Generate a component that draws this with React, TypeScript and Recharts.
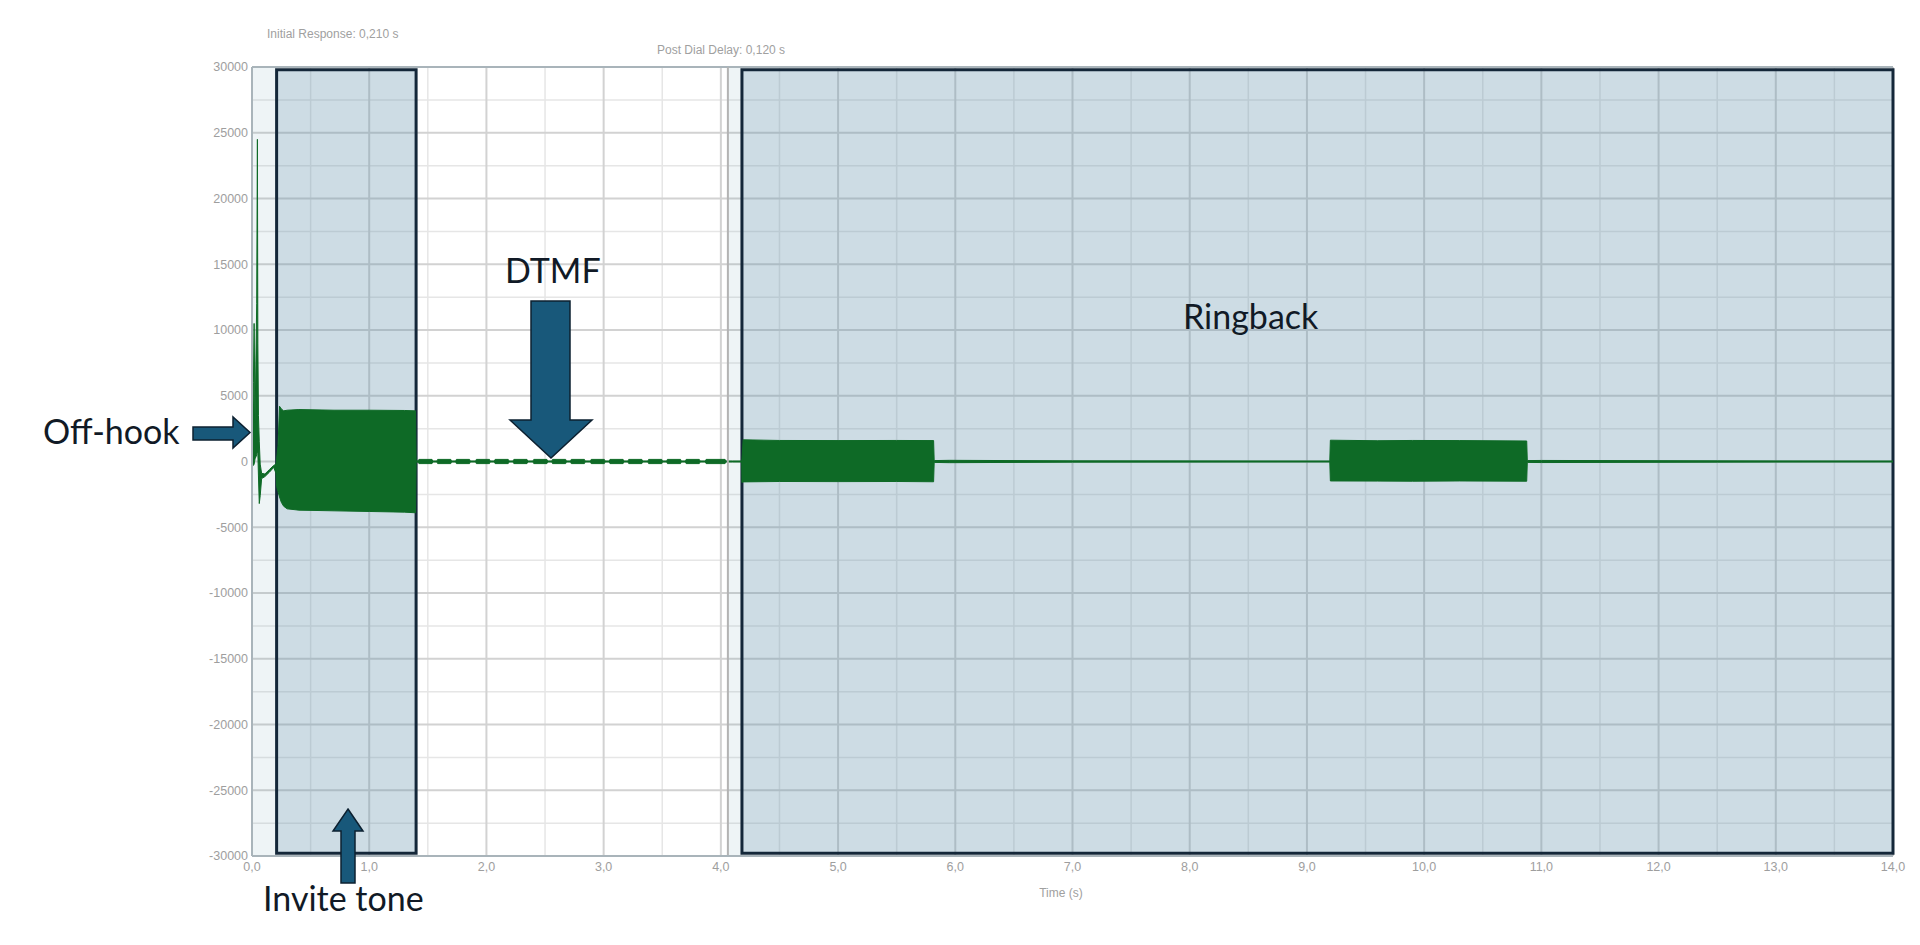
import React from 'react';
import { ComposedChart, Area, XAxis, YAxis, CartesianGrid, ReferenceArea, ReferenceLine } from 'recharts';

// ---- axis ticks ----
const xTicks = [0, 1, 2, 3, 4, 5, 6, 7, 8, 9, 10, 11, 12, 13, 14];
const yTicks = [-30000, -25000, -20000, -15000, -10000, -5000, 0, 5000, 10000, 15000, 20000, 25000, 30000];
const minorX = [0.5, 1.5, 2.5, 3.5, 4.5, 5.5, 6.5, 7.5, 8.5, 9.5, 10.5, 11.5, 12.5, 13.5];
const minorY = [-27500, -22500, -17500, -12500, -7500, -2500, 2500, 7500, 12500, 17500, 22500, 27500];

// ---- phases (seconds) ----
const initialResponse = [0, 0.21];
const inviteWindow = [0.21, 1.4];
const postDialDelay = [4.06, 4.18];
const ringbackWindow = [4.18, 14.0];

// ---- waveform envelope: [time, min, max] ----
const offHook: [number, number, number][] = [
  [0.0, 0, 0],
  [0.012, -300, 6000],
  [0.018, -200, 10500],
  [0.026, 200, 3000],
  [0.04, 500, 12000],
  [0.046, 800, 24500],
  [0.05, 600, 9000],
  [0.055, -1100, 3500],
  [0.062, -3200, 1500],
  [0.07, -2600, -200],
  [0.082, -1300, -900],
  [0.11, -1150, -950],
  [0.15, -800, -600],
  [0.185, -450, -300],
  [0.205, -900, -200],
];

const inviteTone: [number, number, number][] = [
  [0.21, -1900, 200],
  [0.222, -2300, 1200],
  [0.235, -2700, 4200],
  [0.25, -3100, 4000],
  [0.27, -3400, 3850],
  [0.3, -3600, 3900],
  [0.4, -3700, 3950],
  [0.7, -3750, 3900],
  [1.0, -3800, 3900],
  [1.3, -3850, 3880],
  [1.395, -3900, 3850],
  [1.4, -60, 60],
];

// DTMF digit bursts: [start, end]
const dtmfTones: [number, number][] = [
  [1.42, 1.54], [1.58, 1.7], [1.74, 1.86], [1.91, 2.03], [2.07, 2.19], [2.23, 2.35],
  [2.4, 2.52], [2.56, 2.68], [2.72, 2.84], [2.89, 3.01], [3.05, 3.17], [3.21, 3.33],
  [3.38, 3.5], [3.54, 3.66], [3.7, 3.82], [3.87, 4.04],
];
const dtmfLevel = 160;
const quietLevel = 40;

const preRingback: [number, number, number][] = [
  [4.1, -40, 40],
  [4.178, -40, 40],
];

const ringback1: [number, number, number][] = [
  [4.18, -1600, 200],
  [4.19, -1550, 1650],
  [4.5, -1520, 1600],
  [5.0, -1530, 1590],
  [5.5, -1520, 1600],
  [5.815, -1540, 1590],
  [5.82, -70, 70],
];

const silence1: [number, number, number][] = [
  [5.95, -90, 90],
  [7.0, -50, 50],
  [9.195, -40, 40],
];

const ringback2: [number, number, number][] = [
  [9.2, -1480, 1620],
  [9.6, -1490, 1580],
  [9.9, -1500, 1600],
  [10.3, -1480, 1590],
  [10.875, -1500, 1560],
  [10.88, -70, 70],
];

const tail: [number, number, number][] = [
  [11.0, -80, 80],
  [12.5, -50, 50],
  [14.0, -40, 40],
];

const dtmfEnvelope: [number, number, number][] = [];
dtmfTones.forEach(([s, e]) => {
  dtmfEnvelope.push([s - 0.002, -quietLevel, quietLevel]);
  dtmfEnvelope.push([s + 0.004, -dtmfLevel, dtmfLevel]);
  dtmfEnvelope.push([e - 0.004, -dtmfLevel, dtmfLevel]);
  dtmfEnvelope.push([e + 0.002, -quietLevel, quietLevel]);
});

const wave = [
  ...offHook,
  ...inviteTone,
  ...dtmfEnvelope,
  ...preRingback,
  ...ringback1,
  ...silence1,
  ...ringback2,
  ...tail,
].map(([t, lo, hi]) => ({ t, v: [lo, hi] }));

const fmtX = (v: number) => v.toFixed(1).replace('.', ',');

const tickStyle = { fill: '#9e9e9e', fontSize: 12.5, fontFamily: 'Liberation Sans, Arial, sans-serif' };
const GREEN = '#0e6a26';
const BOX = '#5c8fa9';
const NAVY = '#142739';
const ARROW_FILL = '#18587a';
const ARROW_STROKE = '#0c2030';
const LABEL = '#111a26';

export default function App() {
  return (
    <div style={{ position: 'absolute', left: 0, top: 0, width: 1920, height: 945, background: '#fff' }}>
      <ComposedChart width={1920} height={945} margin={{ top: 67, right: 27, bottom: 59, left: 192 }}>
        <CartesianGrid verticalValues={minorX} horizontalValues={minorY} stroke="#e6e6e6" strokeWidth={1.5} />
        <CartesianGrid verticalValues={xTicks} horizontalValues={yTicks} stroke="#d2d2d2" strokeWidth={2} />
        <XAxis
          type="number"
          dataKey="t"
          domain={[0, 14]}
          ticks={xTicks}
          tickFormatter={fmtX}
          tick={tickStyle}
          tickSize={0}
          tickMargin={6}
          axisLine={{ stroke: '#a9b4ba', strokeWidth: 2 }}
          height={30}
          allowDataOverflow
        />
        <YAxis
          type="number"
          domain={[-30000, 30000]}
          ticks={yTicks}
          tick={tickStyle}
          tickSize={0}
          tickMargin={4}
          width={60}
          axisLine={{ stroke: '#a9b4ba', strokeWidth: 2 }}
          allowDataOverflow
        />
        <ReferenceLine y={30000} stroke="#a9b4ba" strokeWidth={2} />
        <ReferenceArea x1={initialResponse[0]} x2={initialResponse[1]} y1={-30000} y2={30000} fill={BOX} fillOpacity={0.1} stroke="none" />
        <ReferenceArea x1={postDialDelay[0]} x2={postDialDelay[1]} y1={-30000} y2={30000} fill={BOX} fillOpacity={0.1} stroke="none" />
        <ReferenceLine x={postDialDelay[0]} stroke="#b3b3b3" strokeWidth={2} />
        <ReferenceArea x1={inviteWindow[0]} x2={inviteWindow[1]} y1={-29800} y2={29800} fill={BOX} fillOpacity={0.31} stroke={NAVY} strokeWidth={3} />
        <ReferenceArea x1={ringbackWindow[0]} x2={ringbackWindow[1]} y1={-29800} y2={29800} fill={BOX} fillOpacity={0.31} stroke={NAVY} strokeWidth={3} />
        <Area
          data={wave}
          dataKey="v"
          type="linear"
          fill={GREEN}
          fillOpacity={1}
          stroke={GREEN}
          strokeWidth={1}
          dot={false}
          activeDot={false}
          isAnimationActive={false}
        />
      </ComposedChart>
      <svg width={1920} height={945} style={{ position: 'absolute', left: 0, top: 0, pointerEvents: 'none' }}>
        <text x={267} y={38} fill="#a0a0a0" fontSize={12} fontFamily="Liberation Sans, Arial, sans-serif">Initial Response: 0,210 s</text>
        <text x={657} y={54} fill="#a0a0a0" fontSize={12} fontFamily="Liberation Sans, Arial, sans-serif">Post Dial Delay: 0,120 s</text>
        <text x={1061} y={897} fill="#a0a0a0" fontSize={12} textAnchor="middle" fontFamily="Liberation Sans, Arial, sans-serif">Time (s)</text>

        <polygon points="193,427 233,427 233,417 250,432.5 233,448 233,440 193,440" fill={ARROW_FILL} stroke={ARROW_STROKE} strokeWidth={1.5} />
        <polygon points="531,301 570,301 570,420 592,420 551,458 510,420 531,420" fill={ARROW_FILL} stroke={ARROW_STROKE} strokeWidth={1.5} />
        <polygon points="348,809 363,831 355,831 355,883 341,883 341,831 333,831" fill={ARROW_FILL} stroke={ARROW_STROKE} strokeWidth={1.5} />

        <text x={43} y={444} fill={LABEL} fontSize={34} fontFamily="Lato, sans-serif">Off-hook</text>
        <text x={505} y={283} fill={LABEL} fontSize={34} fontFamily="Lato, sans-serif">DTMF</text>
        <text x={1183} y={329} fill={LABEL} fontSize={34} fontFamily="Lato, sans-serif">Ringback</text>
        <text x={263} y={911} fill={LABEL} fontSize={34} fontFamily="Lato, sans-serif">Invite tone</text>
      </svg>
    </div>
  );
}
